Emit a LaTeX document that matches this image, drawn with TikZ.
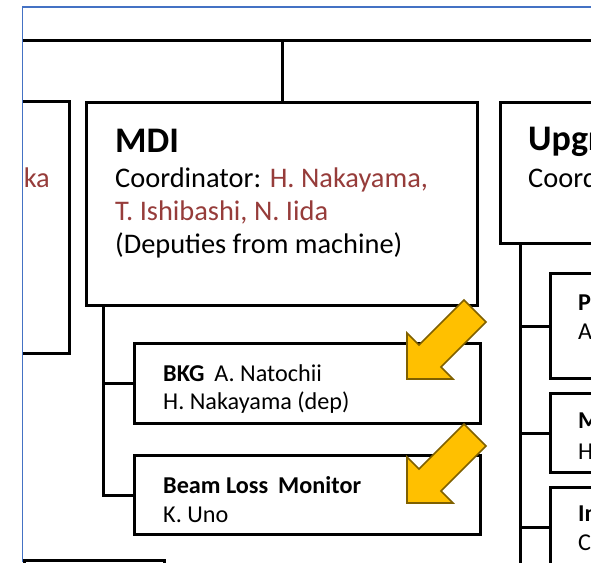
\documentclass[tikz,border=0pt]{standalone}
\usepackage{fontspec}
\setmainfont{Carlito}
\definecolor{namecol}{RGB}{150,60,58}
\definecolor{framecol}{RGB}{68,114,196}
\definecolor{arrowfill}{RGB}{255,192,0}
\definecolor{arrowline}{RGB}{127,96,0}
\newcommand{\titlefont}{\fontsize{36}{43}\selectfont\bfseries}
\newcommand{\bodyfont}{\fontsize{28.4}{34}\selectfont}
\newcommand{\smallfont}{\fontsize{24.2}{29}\selectfont}
\begin{document}
\begin{tikzpicture}[x=1pt,y=-1pt,
  orgbox/.style={draw=black,line width=3pt,fill=white,inner sep=0pt,anchor=north west},
  link/.style={draw=black,line width=3pt},
  txt/.style={anchor=base west,inner sep=0pt,text=black},
  pics/blockarrow/.style={code={
    \filldraw[fill=arrowfill,draw=arrowline,line width=1.6pt,line join=miter]
      (0,0) -- (0,-46) -- (12,-34) -- (57,-79) -- (79,-57) -- (34,-12) -- (46,0) -- cycle;}}]
\useasboundingbox[fill=white] (0,0) rectangle (591,562);
\begin{scope}
\clip (22.5,7) rectangle (591,562);
% top bar of the chart
\coordinate (barL) at (0,40);
\coordinate (barR) at (600,40);
\draw[link] (barL) -- (barR);
% boxes of the second level
\node[orgbox,minimum width=268pt,minimum height=252pt] (left) at (-200,100) {};
\node[orgbox,minimum width=391pt,minimum height=203pt] (mdi) at (85,101) {};
\node[orgbox,minimum width=200pt,minimum height=141pt] (upg) at (499,101) {};
\node[orgbox,minimum width=140pt,minimum height=80pt] (low) at (23,559) {};
\draw[link] (mdi.north) -- (mdi.north |- barL);
% MDI sub-groups
\node[orgbox,minimum width=346pt,minimum height=80pt] (bkg) at (133,342) {};
\node[orgbox,minimum width=346pt,minimum height=79pt] (blm) at (133,454) {};
\coordinate (mdispine) at (103,304);
\draw[link] (mdispine) |- (bkg.west);
\draw[link] (mdispine) |- (blm.west);
% Upgrade sub-groups
\node[orgbox,minimum width=100pt,minimum height=105pt] (ua) at (549,272) {};
\node[orgbox,minimum width=100pt,minimum height=79pt] (ub) at (549,392) {};
\node[orgbox,minimum width=100pt,minimum height=80pt] (uc) at (549,486) {};
\coordinate (upgspine) at (520,242);
\coordinate (upgend) at (520,600);
\draw[link] (upgspine) -- (upgend);
\draw[link] (upgspine |- ua.west) -- (ua.west);
\draw[link] (upgspine |- ub.west) -- (ub.west);
\draw[link] (upgspine |- uc.west) -- (uc.west);
% texts
\node[txt,anchor=base east,text=namecol,font=\bodyfont] (lefttxt) at (50,187) {ka};
\node[txt,font=\titlefont] (mditl) at (115,152) {MDI};
\node[txt,font=\bodyfont] (mdil1) at (115,187) {Coordinator: \textcolor{namecol}{H. Nakayama,}};
\node[txt,font=\bodyfont,text=namecol] (mdil2) at (115,220) {T. Ishibashi, N. Iida};
\node[txt,font=\bodyfont] (mdil3) at (115,253) {(Deputies from machine)};
\node[txt,font=\smallfont] (bkgl1) at (163,381) {\textbf{BKG}\hspace{10pt}A. Natochii};
\node[txt,font=\smallfont] (bkgl2) at (163,409) {H. Nakayama (dep)};
\node[txt,font=\smallfont] (blml1) at (163,493) {\textbf{Beam Loss\hspace{10pt}Monitor}};
\node[txt,font=\smallfont] (blml2) at (163,522) {K. Uno};
\node[txt,font=\titlefont] (upgtl) at (528,150) {Upgr};
\node[txt,font=\bodyfont] (upgl1) at (528,187) {Coord};
\node[txt,font=\smallfont\bfseries] (ual1) at (578,310) {P};
\node[txt,font=\smallfont] (ual2) at (578,339) {A};
\node[txt,font=\smallfont\bfseries] (ubl1) at (578,428) {M};
\node[txt,font=\smallfont] (ubl2) at (578,459) {H};
\node[txt,font=\smallfont\bfseries] (ucl1) at (578,521) {In};
\node[txt,font=\smallfont] (ucl2) at (578,550) {C};
% highlight arrows
\pic at (407,379) {blockarrow};
\pic at (407,503) {blockarrow};
\end{scope}
% slide frame
\draw[framecol,line width=1.2pt] (22.5,562) -- (22.5,7) -- (591,7);
\end{tikzpicture}
\end{document}
